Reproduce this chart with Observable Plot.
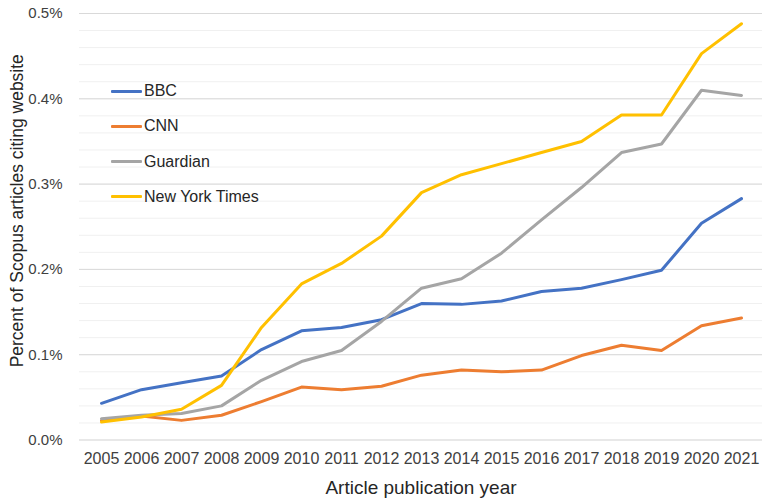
<!DOCTYPE html>
<html><head><meta charset="utf-8">
<script src="https://cdn.jsdelivr.net/npm/d3@7"></script>
<script src="https://cdn.jsdelivr.net/npm/@observablehq/plot@0.6"></script>
<style>
body{margin:0;background:#fff;font-family:"Liberation Sans",Arial,sans-serif;}
#wrap{position:relative;width:762px;height:500px;}
.item{position:absolute;left:111px;display:flex;align-items:center;white-space:nowrap;font-size:16px;color:#262626;line-height:20px;height:20px}
.sw{width:31px;height:3px;margin-right:2px;border-radius:1px}
</style></head><body><div id="wrap"></div>
<script>
const years = [2005,2006,2007,2008,2009,2010,2011,2012,2013,2014,2015,2016,2017,2018,2019,2020,2021];
const seriesNames = ["BBC","CNN","Guardian","New York Times"];
const colors = ["#4472C4","#ED7D31","#A5A5A5","#FFC000"];
const bbc = [0.043,0.059,0.067,0.075,0.106,0.128,0.132,0.141,0.160,0.159,0.163,0.174,0.178,0.188,0.199,0.254,0.283];
const cnn = [0.023,0.028,0.023,0.029,0.045,0.062,0.059,0.063,0.076,0.082,0.080,0.082,0.099,0.111,0.105,0.134,0.143];
const guardian = [0.025,0.029,0.031,0.040,0.070,0.092,0.105,0.139,0.178,0.189,0.219,0.258,0.296,0.337,0.347,0.410,0.404];
const nyt = [0.021,0.027,0.036,0.064,0.132,0.183,0.207,0.239,0.290,0.311,0.324,0.337,0.350,0.381,0.381,0.453,0.488];
const yTicks = [0,0.1,0.2,0.3,0.4,0.5];
const minorTicks = d3.range(0, 0.5001, 0.02);
const xTitle = "Article publication year";
const yTitle = "Percent of Scopus articles citing website";

const seriesValues = [bbc, cnn, guardian, nyt];
const data = seriesNames.flatMap((s, i) => years.map((y, j) => ({series: s, year: String(y), value: seriesValues[i][j]})));

const chart = Plot.plot({
  width: 762, height: 500,
  marginLeft: 79, marginRight: 0, marginTop: 13, marginBottom: 60.5,
  style: {fontFamily: "'Liberation Sans', Arial, sans-serif", fontSize: "16px", color: "#404040", background: "#fff"},
  x: {type: "point", domain: years.map(String), padding: 0.5},
  y: {domain: [0, 0.5]},
  color: {domain: seriesNames, range: colors},
  marks: [
    Plot.gridY(minorTicks, {stroke: "#f0f0f0", strokeOpacity: 1, strokeWidth: 1}),
    Plot.gridY(yTicks, {stroke: "#d9d9d9", strokeOpacity: 1, strokeWidth: 1}),
    Plot.axisY(yTicks, {tickSize: 0, tickPadding: 17, tickFormat: d => d.toFixed(1) + "%", label: null, fontSize: 15}),
    Plot.axisX({tickSize: 0, tickPadding: 13, label: null, fontSize: 16}),
    Plot.line(data, {x: "year", y: "value", z: "series", stroke: "series", strokeWidth: 3, strokeLinejoin: "round", strokeLinecap: "round"}),
    Plot.text([xTitle], {text: d => d, frameAnchor: "bottom", lineAnchor: "middle", textAnchor: "middle", dy: 48, fontSize: 19, fill: "#262626"}),
    Plot.text([yTitle], {text: d => d, frameAnchor: "left", textAnchor: "middle", lineAnchor: "middle", dx: -62, dy: -16, rotate: -90, fontSize: 17.5, fill: "#262626"})
  ]
});
const wrap = document.getElementById("wrap");
wrap.appendChild(chart);
const legendTops = [91, 126, 161.5, 196.5];
seriesNames.forEach((s, i) => {
  const it = document.createElement("div");
  it.className = "item";
  it.style.top = (legendTops[i] - 10) + "px";
  const sw = document.createElement("span");
  sw.className = "sw"; sw.style.background = colors[i];
  const t = document.createElement("span");
  t.textContent = s;
  it.appendChild(sw); it.appendChild(t);
  wrap.appendChild(it);
});
</script></body></html>
